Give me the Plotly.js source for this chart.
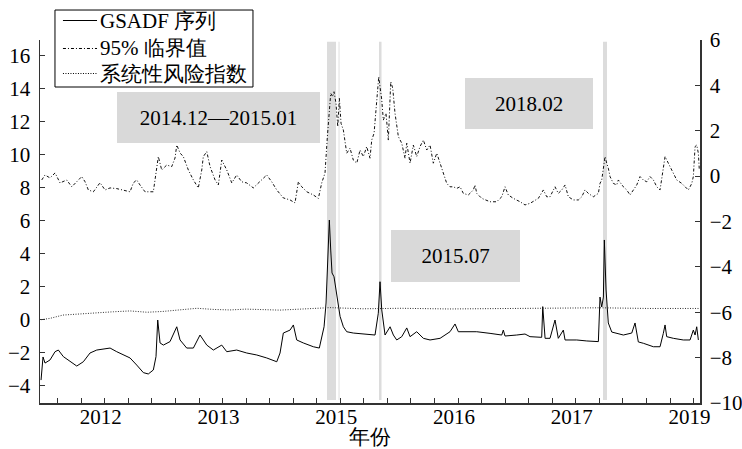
<!DOCTYPE html>
<html>
<head>
<meta charset="utf-8">
<script src="https://cdn.plot.ly/plotly-3.0.1.min.js"></script>
<style>html,body{margin:0;padding:0;background:#fff;}#chart{width:742px;height:449px;}</style>
</head>
<body>
<div id="chart"></div>
<script>
// ---- data (x in decimal years) ----
const gsadfYear = [2011.581,2011.604,2011.627,2011.685,2011.743,2011.781,2011.839,2011.916,2011.994,2012.070,2012.147,2012.225,2012.301,2012.379,2012.456,2012.532,2012.610,2012.687,2012.764,2012.821,2012.879,2012.910,2012.930,2012.957,2012.995,2013.072,2013.150,2013.188,2013.265,2013.342,2013.419,2013.497,2013.573,2013.670,2013.728,2013.843,2013.959,2014.075,2014.190,2014.306,2014.344,2014.382,2014.460,2014.498,2014.537,2014.613,2014.729,2014.798,2014.826,2014.853,2014.876,2014.902,2014.914,2014.930,2014.945,2014.968,2015.000,2015.019,2015.038,2015.076,2015.115,2015.191,2015.346,2015.442,2015.480,2015.500,2015.520,2015.558,2015.616,2015.654,2015.693,2015.751,2015.809,2015.847,2015.924,2016.001,2016.078,2016.194,2016.309,2016.367,2016.405,2016.502,2016.618,2016.772,2016.907,2016.925,2016.945,2017.080,2017.176,2017.234,2017.369,2017.381,2017.408,2017.465,2017.523,2017.561,2017.619,2017.639,2017.774,2017.890,2018.024,2018.043,2018.063,2018.082,2018.093,2018.113,2018.139,2018.179,2018.313,2018.410,2018.448,2018.486,2018.544,2018.660,2018.737,2018.775,2018.795,2018.814,2018.891,2019.006,2019.084,2019.122,2019.142,2019.161,2019.180];
const gsadfValue = [-3.66,-2.26,-2.63,-2.44,-1.94,-1.84,-2.24,-2.55,-2.81,-2.55,-2.02,-1.84,-1.78,-1.72,-1.94,-2.14,-2.32,-2.75,-3.21,-3.29,-3.05,-2.24,-0.02,-1.41,-1.54,-1.33,-0.43,-1.23,-1.72,-1.72,-0.93,-1.54,-1.84,-1.54,-1.94,-1.84,-2.02,-2.14,-2.32,-2.55,-2.02,-0.81,-0.63,-0.32,-1.23,-1.41,-1.64,-1.72,-1.03,-0.43,1.01,3.82,6.04,4.22,2.83,2.60,1.62,0.90,0.20,-0.43,-0.73,-0.81,-0.86,-0.93,0.39,2.30,0.59,-0.93,-0.43,-0.93,-1.23,-1.03,-0.50,-1.03,-0.73,-1.13,-1.23,-1.13,-0.73,-0.26,-0.73,-0.73,-0.73,-0.83,-0.93,-0.63,-0.99,-0.93,-0.87,-1.03,-1.07,0.79,-1.13,-1.13,-0.02,-1.13,-0.63,-1.23,-1.23,-1.29,-1.33,1.37,0.77,1.37,4.83,1.80,-0.20,-0.75,-0.93,-0.81,-0.20,-1.35,-1.43,-1.64,-1.64,-0.83,-0.32,-1.03,-1.13,-1.23,-1.23,-0.63,-0.93,-0.43,-1.23];

const critYear = [2011.589,2011.627,2011.685,2011.743,2011.801,2011.878,2011.936,2011.994,2012.052,2012.090,2012.128,2012.186,2012.263,2012.321,2012.379,2012.456,2012.532,2012.610,2012.648,2012.687,2012.725,2012.783,2012.879,2012.919,2012.937,2012.976,2013.034,2013.092,2013.130,2013.150,2013.188,2013.226,2013.284,2013.342,2013.399,2013.439,2013.457,2013.497,2013.535,2013.593,2013.631,2013.670,2013.728,2013.786,2013.843,2013.901,2013.959,2014.035,2014.113,2014.190,2014.248,2014.306,2014.382,2014.460,2014.517,2014.556,2014.595,2014.653,2014.729,2014.787,2014.826,2014.864,2014.891,2014.914,2014.930,2014.953,2014.968,2014.991,2015.011,2015.030,2015.049,2015.076,2015.115,2015.153,2015.191,2015.231,2015.269,2015.307,2015.346,2015.384,2015.404,2015.431,2015.454,2015.485,2015.500,2015.520,2015.538,2015.569,2015.596,2015.624,2015.647,2015.673,2015.712,2015.751,2015.789,2015.809,2015.847,2015.885,2015.924,2015.962,2016.001,2016.040,2016.078,2016.116,2016.156,2016.194,2016.232,2016.271,2016.309,2016.347,2016.387,2016.425,2016.463,2016.521,2016.579,2016.598,2016.618,2016.676,2016.772,2016.849,2016.907,2016.945,2016.983,2017.041,2017.119,2017.176,2017.234,2017.292,2017.330,2017.388,2017.427,2017.465,2017.523,2017.561,2017.601,2017.639,2017.677,2017.735,2017.793,2017.832,2017.870,2017.908,2017.966,2018.024,2018.043,2018.063,2018.082,2018.101,2018.121,2018.139,2018.159,2018.197,2018.236,2018.255,2018.313,2018.352,2018.390,2018.428,2018.468,2018.506,2018.544,2018.583,2018.621,2018.660,2018.699,2018.737,2018.775,2018.795,2018.833,2018.891,2018.930,2018.988,2019.026,2019.064,2019.084,2019.104,2019.122,2019.142,2019.161,2019.180,2019.191];
const critValue = [-0.17,0.05,-0.08,0.14,-0.30,-0.17,-0.47,-0.25,-0.02,-0.25,-0.61,-0.69,-0.29,-0.61,-0.52,-0.55,-0.61,-0.69,-0.30,-0.17,-0.39,-0.69,-0.69,0.42,0.86,0.27,0.49,0.42,0.80,1.37,1.02,0.86,0.27,-0.17,-0.52,0.27,0.86,1.08,0.42,-0.17,-0.39,0.71,0.27,-0.30,0.05,-0.25,-0.30,-0.52,-0.25,0.05,-0.25,-0.61,-0.96,-1.05,-1.18,-0.25,-0.47,-0.69,-0.83,-0.98,-0.30,0.14,1.74,3.06,3.65,3.50,3.72,3.20,2.18,3.43,2.33,2.03,1.01,1.23,0.71,0.57,1.15,0.86,1.30,0.79,1.59,1.89,2.91,4.38,3.94,3.36,2.47,2.77,1.59,4.16,3.87,2.77,1.74,1.45,0.79,1.45,0.57,1.37,0.86,1.30,1.59,1.15,1.37,0.57,1.01,0.57,0.13,-0.32,-0.47,-0.47,-0.54,-0.47,-0.76,-0.83,-0.61,-0.39,-0.76,-0.98,-1.13,-1.13,-0.91,-0.47,-0.83,-0.98,-1.13,-1.27,-1.20,-1.05,-0.98,-0.61,-0.91,-0.91,-0.47,-0.76,-0.61,-0.39,-0.91,-1.05,-1.05,-0.91,-0.61,-0.76,-0.91,-0.76,-0.32,-0.17,0.27,0.86,0.57,0.35,-0.02,-0.32,-0.39,-0.17,-0.47,-0.61,-0.83,-0.61,-0.39,-0.02,-0.17,-0.25,-0.02,-0.17,-0.47,-0.61,0.27,0.86,0.57,0.13,-0.17,-0.32,-0.47,-0.61,-0.47,-0.32,-0.02,1.30,1.37,1.01,0.27];

const riskYear = [2011.581,2011.685,2011.835,2012.030,2012.228,2012.420,2012.610,2012.806,2012.991,2013.190,2013.384,2013.580,2013.766,2013.950,2014.147,2014.340,2014.540,2014.730,2014.922,2015.300,2015.731,2016.300,2016.887,2017.450,2018.043,2018.600,2019.199];
const riskValue = [0.00,0.08,0.28,0.36,0.42,0.48,0.53,0.45,0.50,0.60,0.69,0.62,0.59,0.64,0.63,0.58,0.63,0.66,0.73,0.66,0.69,0.65,0.66,0.70,0.72,0.68,0.68];

const eventStart = [2014.887, 2015.488, 2018.078];
const eventEnd   = [2014.991, 2015.517, 2018.124];
const eventLabels = ['2014.12—2015.01', '2015.07', '2018.02'];

const seriesNames = ['GSADF 序列', '95% 临界值', '系统性风险指数'];
const xTickLabels = ['2012', '2013', '2015', '2016', '2017', '2019'];
const xTickStart = 2011.774, xTickStep = 0.27225, xTickCount = 28;

// ---- build ----
const FONT = 'Liberation Serif';
const tickvals = [], ticktext = [];
for (let k = 0; k < xTickCount; k++) {
  tickvals.push(xTickStart + k * xTickStep);
  ticktext.push((k - 2) % 5 === 0 && k >= 2 ? xTickLabels[(k - 2) / 5] : '');
}

const lineStyles = [
  {color: '#000', width: 1},
  {color: '#111', width: 1, dash: '3px,2px,1px,2px'},
  {color: '#333', width: 1, dash: '1px,1.5px'}
];

const traces = [
  {x: gsadfYear, y: gsadfValue, name: seriesNames[0], type: 'scatter', mode: 'lines', line: lineStyles[0], yaxis: 'y'},
  {x: critYear, y: critValue, name: seriesNames[1], type: 'scatter', mode: 'lines', line: lineStyles[1], yaxis: 'y2'},
  {x: riskYear, y: riskValue, name: seriesNames[2], type: 'scatter', mode: 'lines', line: lineStyles[2], yaxis: 'y'}
];

const shapes = [];
for (let i = 0; i < eventStart.length; i++) {
  shapes.push({type: 'rect', xref: 'x', yref: 'paper', x0: eventStart[i], x1: eventEnd[i],
    y0: 0.008, y1: 0.995, fillcolor: '#dcdcdc', line: {width: 0}, layer: 'below'});
}
shapes.push({type: 'rect', xref: 'x', yref: 'paper', x0: 2015.018, x1: 2015.034,
  y0: 0.008, y1: 0.995, fillcolor: '#e8e8e8', line: {width: 0}, layer: 'below'});

// custom legend (box, line samples, labels)
const legendBox = {x0: 0.0227, x1: 0.3227, y0: 0.8705, y1: 1.0826};
const legendRows = [1.0537, 0.9766, 0.9077];
shapes.push({type: 'rect', xref: 'paper', yref: 'paper', x0: legendBox.x0, x1: legendBox.x1,
  y0: legendBox.y0, y1: legendBox.y1, fillcolor: '#fff', line: {color: '#000', width: 1}, layer: 'above'});
legendRows.forEach((ry, i) => {
  shapes.push({type: 'line', xref: 'paper', yref: 'paper', x0: 0.0348, x1: 0.0864, y0: ry, y1: ry,
    line: Object.assign({}, lineStyles[i], {color: '#000'}), layer: 'above'});
});

const boxPos = [[0.2705, 0.7865, 203, 51], [0.6295, 0.405, 129, 52], [0.741, 0.825, 128, 51]];
const annotations = eventLabels.map((t, i) => ({
  text: t, xref: 'paper', yref: 'paper', x: boxPos[i][0], y: boxPos[i][1],
  xanchor: 'center', yanchor: 'middle', showarrow: false,
  width: boxPos[i][2], height: boxPos[i][3], bgcolor: '#d9d9d9', borderpad: 0, borderwidth: 0,
  font: {family: FONT, size: 21, color: '#000'}
}));
legendRows.forEach((ry, i) => {
  annotations.push({text: seriesNames[i], xref: 'paper', yref: 'paper', x: 0.0894, y: ry,
    xanchor: 'left', yanchor: 'middle', showarrow: false, borderpad: 0,
    font: {family: FONT, size: 21, color: '#000'}});
});

const axisCommon = {showgrid: false, zeroline: false, showline: true, linecolor: '#333', linewidth: 1.5,
  ticks: 'inside', ticklen: 5, tickwidth: 1, tickcolor: '#333',
  tickfont: {family: FONT, size: 21, color: '#000'}};

const layout = {
  width: 742, height: 449,
  margin: {l: 40, r: 42, t: 40, b: 46, pad: 0},
  paper_bgcolor: '#fff', plot_bgcolor: '#fff',
  font: {family: FONT, size: 21, color: '#000'},
  showlegend: false,
  xaxis: Object.assign({}, axisCommon, {range: [2011.569, 2019.199], tickmode: 'array',
    tickvals: tickvals, ticktext: ticktext, ticklabelshift: -4, ticklabelstandoff: -6,
    title: {text: '年份', font: {family: FONT, size: 21, color: '#000'}, standoff: 4}}),
  yaxis: Object.assign({}, axisCommon, {range: [-5.05, 16.95], tick0: 0, dtick: 2, ticklabelstandoff: 4}),
  yaxis2: Object.assign({}, axisCommon, {range: [-10, 6], tick0: 0, dtick: 2, overlaying: 'y', side: 'right', ticklabelstandoff: 4}),
  shapes: shapes,
  annotations: annotations
};

Plotly.newPlot('chart', traces, layout, {displayModeBar: false, staticPlot: true});
</script>
</body>
</html>
